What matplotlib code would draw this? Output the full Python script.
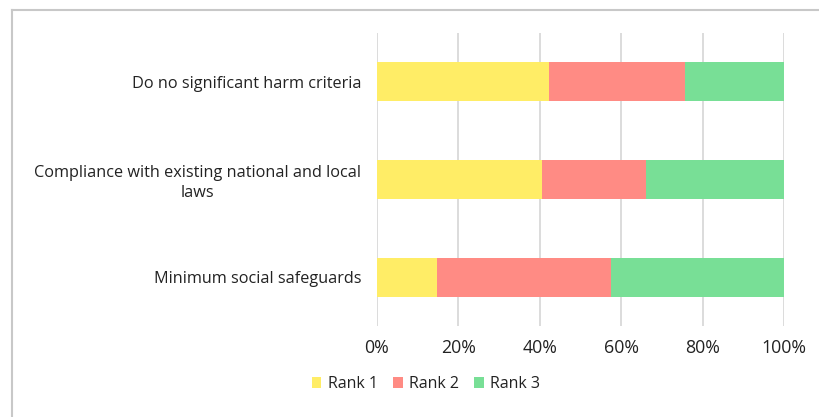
import numpy as np
import matplotlib.pyplot as plt
from matplotlib.lines import Line2D

plt.rcParams['font.family'] = ['Open Sans', 'DejaVu Sans']

# данные (доли в %), сверху вниз
categories = ['Do no significant harm criteria',
              'Compliance with existing national and local\nlaws',
              'Minimum social safeguards']
rank1 = [42.2, 40.4, 14.8]
rank2 = [33.4, 25.6, 42.6]
rank3 = [24.4, 34.0, 42.6]
series_names = ['Rank 1', 'Rank 2', 'Rank 3']
colors = ['#FFED66', '#FF8B84', '#78DF96']
xticks = [0, 20, 40, 60, 80, 100]

fig = plt.figure(figsize=(8.19, 4.17), dpi=100)
ax = fig.add_axes([0.4603, 0.2182, 0.4973, 0.7027])

y = np.arange(len(categories))
left = np.zeros(len(categories))
for vals, name, col in zip([rank1, rank2, rank3], series_names, colors):
    ax.barh(y, vals, left=left, height=0.4, color=col, label=name, zorder=2)
    left += np.array(vals)

ax.set_xlim(0, 100)
ax.set_ylim(len(categories) - 0.5, -0.5)
ax.set_yticks(y)
ax.set_yticklabels(categories, fontsize=11.7, color='#222222',
                   ha='right', multialignment='center', linespacing=1.3)
ax.tick_params(axis='y', length=0, pad=11.5)
ax.set_xticks(xticks)
ax.set_xticklabels([f'{v}%' for v in xticks], fontsize=12.8, color='#222222')
ax.tick_params(axis='x', length=0, pad=9)
ax.grid(axis='x', color='#d6d6d6', linewidth=1.2, zorder=0)
for s in ax.spines.values():
    s.set_visible(False)

fig.legend(loc='center', bbox_to_anchor=(426 / 819, 1 - 384 / 417), ncol=3,
           frameon=False, fontsize=11.5, handlelength=0.6, handleheight=0.7,
           handletextpad=0.4, columnspacing=0.95, labelcolor='#222222')

# рамка
fig.add_artist(Line2D([11.5 / 819, 11.5 / 819], [0, 1 - 9.5 / 417],
                      transform=fig.transFigure, color='#c8c8c8', lw=1.5))
fig.add_artist(Line2D([11.5 / 819, 1], [1 - 9.5 / 417, 1 - 9.5 / 417],
                      transform=fig.transFigure, color='#c8c8c8', lw=1.5))

fig.savefig('out.png', dpi=100)
